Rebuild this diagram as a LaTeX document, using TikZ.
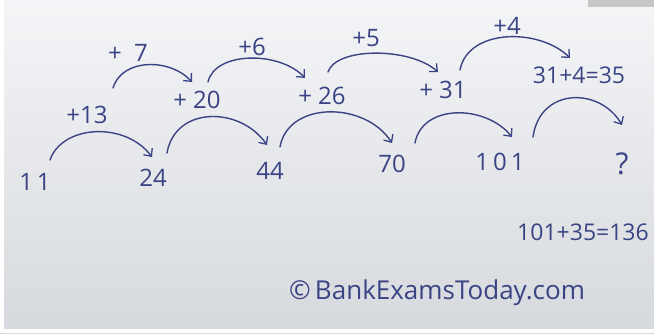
\documentclass[tikz,border=0pt]{standalone}
\usepackage{fontspec}
\setmainfont{Open Sans}
\usetikzlibrary{arrows.meta}
\definecolor{ink}{RGB}{58,68,132}
\definecolor{papertop}{RGB}{244,245,247}
\definecolor{paperbot}{RGB}{214,217,221}
\tikzset{
  num/.style={text=ink, inner sep=0pt, font=\fontsize{24}{24}\selectfont},
  small/.style={text=ink, inner sep=0pt, font=\fontsize{23}{23}\selectfont},
  arc/.style={draw=ink, line width=1.4pt, line cap=round,
    -{Straight Barb[length=6pt,width=11pt,line width=1.3pt]}}
}
\begin{document}
\begin{tikzpicture}[x=1pt,y=-1pt]
\useasboundingbox (0,0) rectangle (654,333);
\shade[top color=papertop, bottom color=paperbot] (0,0) rectangle (654,333);
\fill[white] (0,0) rectangle (4,333);
\fill[white] (0,329) rectangle (654,333);
\fill[gray!45] (588,0) rectangle (654,7);
% bottom row
\node[num] (n11) at (35,182) {1\,1};
\node[num] (n24) at (153,178) {24};
\node[num] (n44) at (270,171) {44};
\node[num] (n70) at (392,164) {70};
\node[num] (n101) at (500,162) {1\,0\,1};
\node[num, font=\fontsize{30}{30}\selectfont] (nq) at (622,164) {?};
% middle row
\node[num] (d13) at (87,115) {+13};
\node[num] (d20) at (197,100) {+ 20};
\node[num] (d26) at (322,96) {+ 26};
\node[num] (d31) at (443,90) {+ 31};
\node[small] (d35) at (579,75) {31+4=35};
% top row
\node[num] (t7) at (128,53) {+\ \ 7};
\node[num] (t6) at (252,47) {+6};
\node[num] (t5) at (366,38) {+5};
\node[num] (t4) at (507,26) {+4};
% notes
\node[small] (res) at (583,232) {101+35=136};
\node[num, font=\fontsize{26}{26}\selectfont] (wm) at (437,293) {\textcopyright\,BankExamsToday.com};
% bottom arcs
\draw[arc] ([shift={(15,-22)}]n11.center) .. controls +(12,-35) and +(-27,-36) .. ([shift={(-1,-21)}]n24.center);
\draw[arc] ([shift={(14,-25)}]n24.center) .. controls +(8,-47) and +(-27,-39) .. ([shift={(-3,-26)}]n44.center);
\draw[arc] ([shift={(10,-24)}]n44.center) .. controls +(8,-46) and +(-27,-42) .. ([shift={(0,-21)}]n70.center);
\draw[arc] ([shift={(23,-21)}]n70.center) .. controls +(7,-39) and +(-27,-33) .. ([shift={(12,-25)}]n101.center);
\draw[arc] ([shift={(33,-25)}]n101.center) .. controls +(7,-50) and +(-22,-38) .. ([shift={(0,-39)}]nq.center);
% upper arcs
\draw[arc] ([shift={(26,-27)}]d13.center) .. controls +(9,-30) and +(-22,-24) .. ([shift={(-5,-18)}]d20.center);
\draw[arc] ([shift={(11,-18)}]d20.center) .. controls +(7,-31) and +(-25,-27) .. ([shift={(-17,-18)}]d26.center);
\draw[arc] ([shift={(6,-24)}]d26.center) .. controls +(8,-25) and +(-28,-25) .. ([shift={(-5,-18)}]d31.center);
\draw[arc] ([shift={(17,-20)}]d31.center) .. controls +(8,-42) and +(-30,-30) .. ([shift={(-9,-17)}]d35.center);
\end{tikzpicture}
\end{document}
